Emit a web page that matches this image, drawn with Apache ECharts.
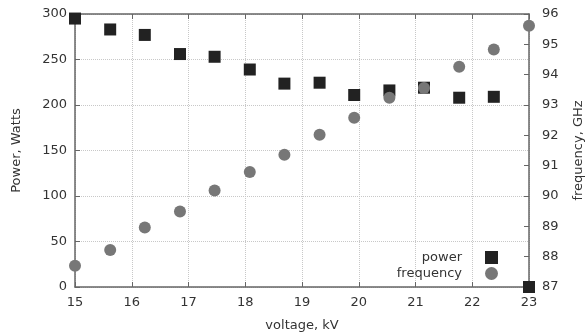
<!DOCTYPE html>
<html><head><meta charset="utf-8">
<script src="https://cdn.jsdelivr.net/npm/echarts@6/dist/echarts.min.js"></script>
<style>html,body{margin:0;padding:0;background:#fff}#c{width:585px;height:336px}</style>
</head><body><div id="c"></div>
<script>
const voltage = [15, 15.62, 16.23, 16.85, 17.46, 18.08, 18.69, 19.31, 19.92, 20.54, 21.15, 21.77, 22.38, 23];
const power = [295, 283, 277, 256, 253, 239, 223.5, 224.5, 211, 216, 219, 208, 209, 0];
const frequency = [87.7, 88.22, 88.96, 89.49, 90.18, 90.79, 91.36, 92.02, 92.58, 93.24, 93.56, 94.26, 94.83, 95.61];

const font = 'DejaVu Sans';
const axisCol = '#666';
const txtCol = '#333';
const chart = echarts.init(document.getElementById('c'));
chart.setOption({
  animation: false,
  textStyle: {fontFamily: font},
  grid: {left: 75, right: 56, top: 14, bottom: 49, containLabel: false, outerBoundsMode: 'none'},
  legend: {
    orient: 'vertical', right: 82, top: 246, align: 'right',
    itemWidth: 13, itemHeight: 13, itemGap: 3,
    textStyle: {fontFamily: font, fontSize: 13, color: txtCol, padding: [0, 18, 0, 0]},
    data: [{name: 'power', icon: 'rect'}, {name: 'frequency', icon: 'circle'}]
  },
  xAxis: [{
    type: 'value', min: 15, max: 23, interval: 1, position: 'bottom',
    name: 'voltage, kV', nameLocation: 'middle', nameGap: 32,
    nameTextStyle: {fontFamily: font, fontSize: 13, color: txtCol},
    axisLine: {lineStyle: {color: axisCol, width: 1.5}},
    axisTick: {inside: true, length: 5, lineStyle: {color: axisCol}},
    axisLabel: {fontFamily: font, fontSize: 13, color: txtCol, margin: 9},
    splitLine: {show: true, lineStyle: {type: 'dotted', color: '#c8c8c8'}}
  }, {
    type: 'value', min: 15, max: 23, interval: 1, position: 'top',
    axisLine: {show: true, lineStyle: {color: axisCol, width: 1.5}},
    axisTick: {show: true, inside: true, length: 5, lineStyle: {color: axisCol}},
    axisLabel: {show: false}, splitLine: {show: false}
  }],
  yAxis: [{
    type: 'value', min: 0, max: 300, interval: 50, position: 'left',
    name: 'Power, Watts', nameLocation: 'middle', nameGap: 52, nameRotate: 90,
    nameTextStyle: {fontFamily: font, fontSize: 13, color: txtCol},
    axisLine: {show: true, lineStyle: {color: axisCol, width: 1.5}},
    axisTick: {show: true, inside: true, length: 5, lineStyle: {color: axisCol}},
    axisLabel: {fontFamily: font, fontSize: 13, color: txtCol, margin: 8},
    splitLine: {show: true, lineStyle: {type: 'dotted', color: '#c8c8c8'}}
  }, {
    type: 'value', min: 87, max: 96, interval: 1, position: 'right',
    name: 'frequency, GHz', nameLocation: 'middle', nameGap: 43, nameRotate: 90,
    nameTextStyle: {fontFamily: font, fontSize: 13, color: txtCol},
    axisLine: {show: true, lineStyle: {color: axisCol, width: 1.5}},
    axisTick: {show: true, inside: true, length: 5, lineStyle: {color: axisCol}},
    axisLabel: {fontFamily: font, fontSize: 13, color: txtCol, margin: 13},
    splitLine: {show: false}
  }],
  series: [{
    name: 'power', type: 'scatter', xAxisIndex: 0, yAxisIndex: 0,
    symbol: 'rect', symbolSize: 12,
    itemStyle: {color: '#222', opacity: 1},
    data: voltage.map((v, i) => [v, power[i]]),
    clip: false, z: 3
  }, {
    name: 'frequency', type: 'scatter', xAxisIndex: 0, yAxisIndex: 1,
    symbol: 'circle', symbolSize: 12,
    itemStyle: {color: '#777', opacity: 1},
    data: voltage.map((v, i) => [v, frequency[i]]),
    clip: false, z: 4
  }]
});
</script></body></html>
